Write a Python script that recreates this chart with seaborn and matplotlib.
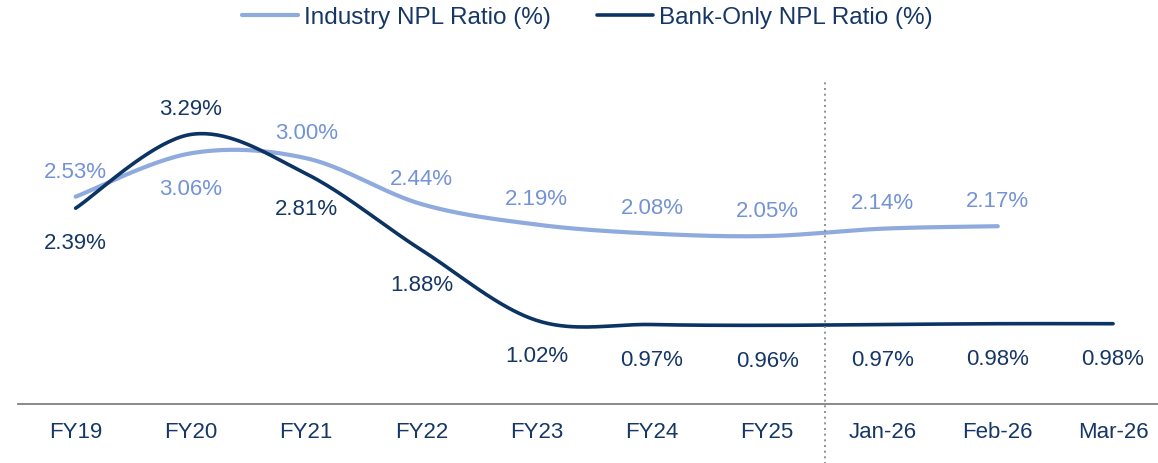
import numpy as np
import pandas as pd
import seaborn as sns
import matplotlib.pyplot as plt

periods = ['FY19', 'FY20', 'FY21', 'FY22', 'FY23', 'FY24', 'FY25', 'Jan-26', 'Feb-26', 'Mar-26']
industry = [2.53, 3.06, 3.00, 2.44, 2.19, 2.08, 2.05, 2.14, 2.17]
bank_only = [2.39, 3.29, 2.81, 1.88, 1.02, 0.97, 0.96, 0.97, 0.98, 0.98]

# label above (+1) or below (-1) the point
industry_side = [1, -1, 1, 1, 1, 1, 1, 1, 1]
bank_side = [-1, 1, -1, -1, -1, -1, -1, -1, -1, -1]

light = '#8FAADC'
light_txt = '#7393D6'
navy = '#0B3464'
navy_txt = '#163766'


def smooth(xs, ys, n=40):
    # excel-style smoothed line (bezier through each point)
    p = np.column_stack([xs, ys]).astype(float)
    p_ext = np.vstack([p[0], p, p[-1]])
    out = []
    t = np.linspace(0, 1, n)[:, None]
    for i in range(len(p) - 1):
        p0, p1, p2, p3 = p_ext[i], p_ext[i + 1], p_ext[i + 2], p_ext[i + 3]
        c1 = p1 + (p2 - p0) / 6
        c2 = p2 - (p3 - p1) / 6
        seg = ((1 - t) ** 3) * p1 + 3 * ((1 - t) ** 2) * t * c1 + 3 * (1 - t) * t ** 2 * c2 + t ** 3 * p2
        out.append(seg if i == 0 else seg[1:])
    out = np.vstack(out)
    return out[:, 0], out[:, 1]


sns.set_theme(style='white')
plt.rcParams['font.family'] = ['Liberation Sans', 'DejaVu Sans']

fig = plt.figure(figsize=(11.58, 4.64), dpi=100)
ax = fig.add_axes([18 / 1158, 1 - 405 / 464, 1 - 18 / 1158, 331 / 464])

frames = []
for name, vals in [('Industry NPL Ratio (%)', industry), ('Bank-Only NPL Ratio (%)', bank_only)]:
    sx, sy = smooth(np.arange(len(vals)), vals)
    frames.append(pd.DataFrame({'x': sx, 'y': sy, 'series': name}))
df = pd.concat(frames, ignore_index=True)

for name, col, lw in [('Industry NPL Ratio (%)', light, 3.0), ('Bank-Only NPL Ratio (%)', navy, 2.6)]:
    sns.lineplot(data=df[df['series'] == name], x='x', y='y', sort=False, color=col,
                 linewidth=lw, label=name, ax=ax, solid_capstyle='round')

for i, v in enumerate(industry):
    off = 18.5 if industry_side[i] > 0 else -25
    ax.annotate('%.2f%%' % v, (i, v), xytext=(0, off), textcoords='offset points',
                ha='center', va='center', fontsize=16, color=light_txt)
for i, v in enumerate(bank_only):
    off = 19 if bank_side[i] > 0 else -25
    ax.annotate('%.2f%%' % v, (i, v), xytext=(0, off), textcoords='offset points',
                ha='center', va='center', fontsize=16, color=navy_txt)

ax.axvline(6.5, ymin=-0.18, ymax=0.975, clip_on=False, color='#808080',
           linestyle=(0, (1.2, 2.2)), linewidth=1.2)

ax.set_xlim(-0.5, 9.39)
ax.set_ylim(0, 4.04)
ax.set_xticks(range(len(periods)))
ax.set_xticklabels(periods, fontsize=16, color=navy_txt)
ax.set_yticks([])
ax.set_xlabel('')
ax.set_ylabel('')
ax.tick_params(axis='x', length=0, pad=12)
for s in ['left', 'top', 'right']:
    ax.spines[s].set_visible(False)
ax.spines['bottom'].set_color('#808080')
ax.spines['bottom'].set_linewidth(1.3)

handles, labels = ax.get_legend_handles_labels()
ax.get_legend().remove()
leg = fig.legend(handles, labels, loc='center', bbox_to_anchor=(0.507, 0.961), ncol=2,
                 frameon=False, fontsize=17.5, handlelength=2.3, handletextpad=0.25,
                 columnspacing=1.9)
for t in leg.get_texts():
    t.set_color(navy_txt)

fig.savefig('out.png', dpi=100)
